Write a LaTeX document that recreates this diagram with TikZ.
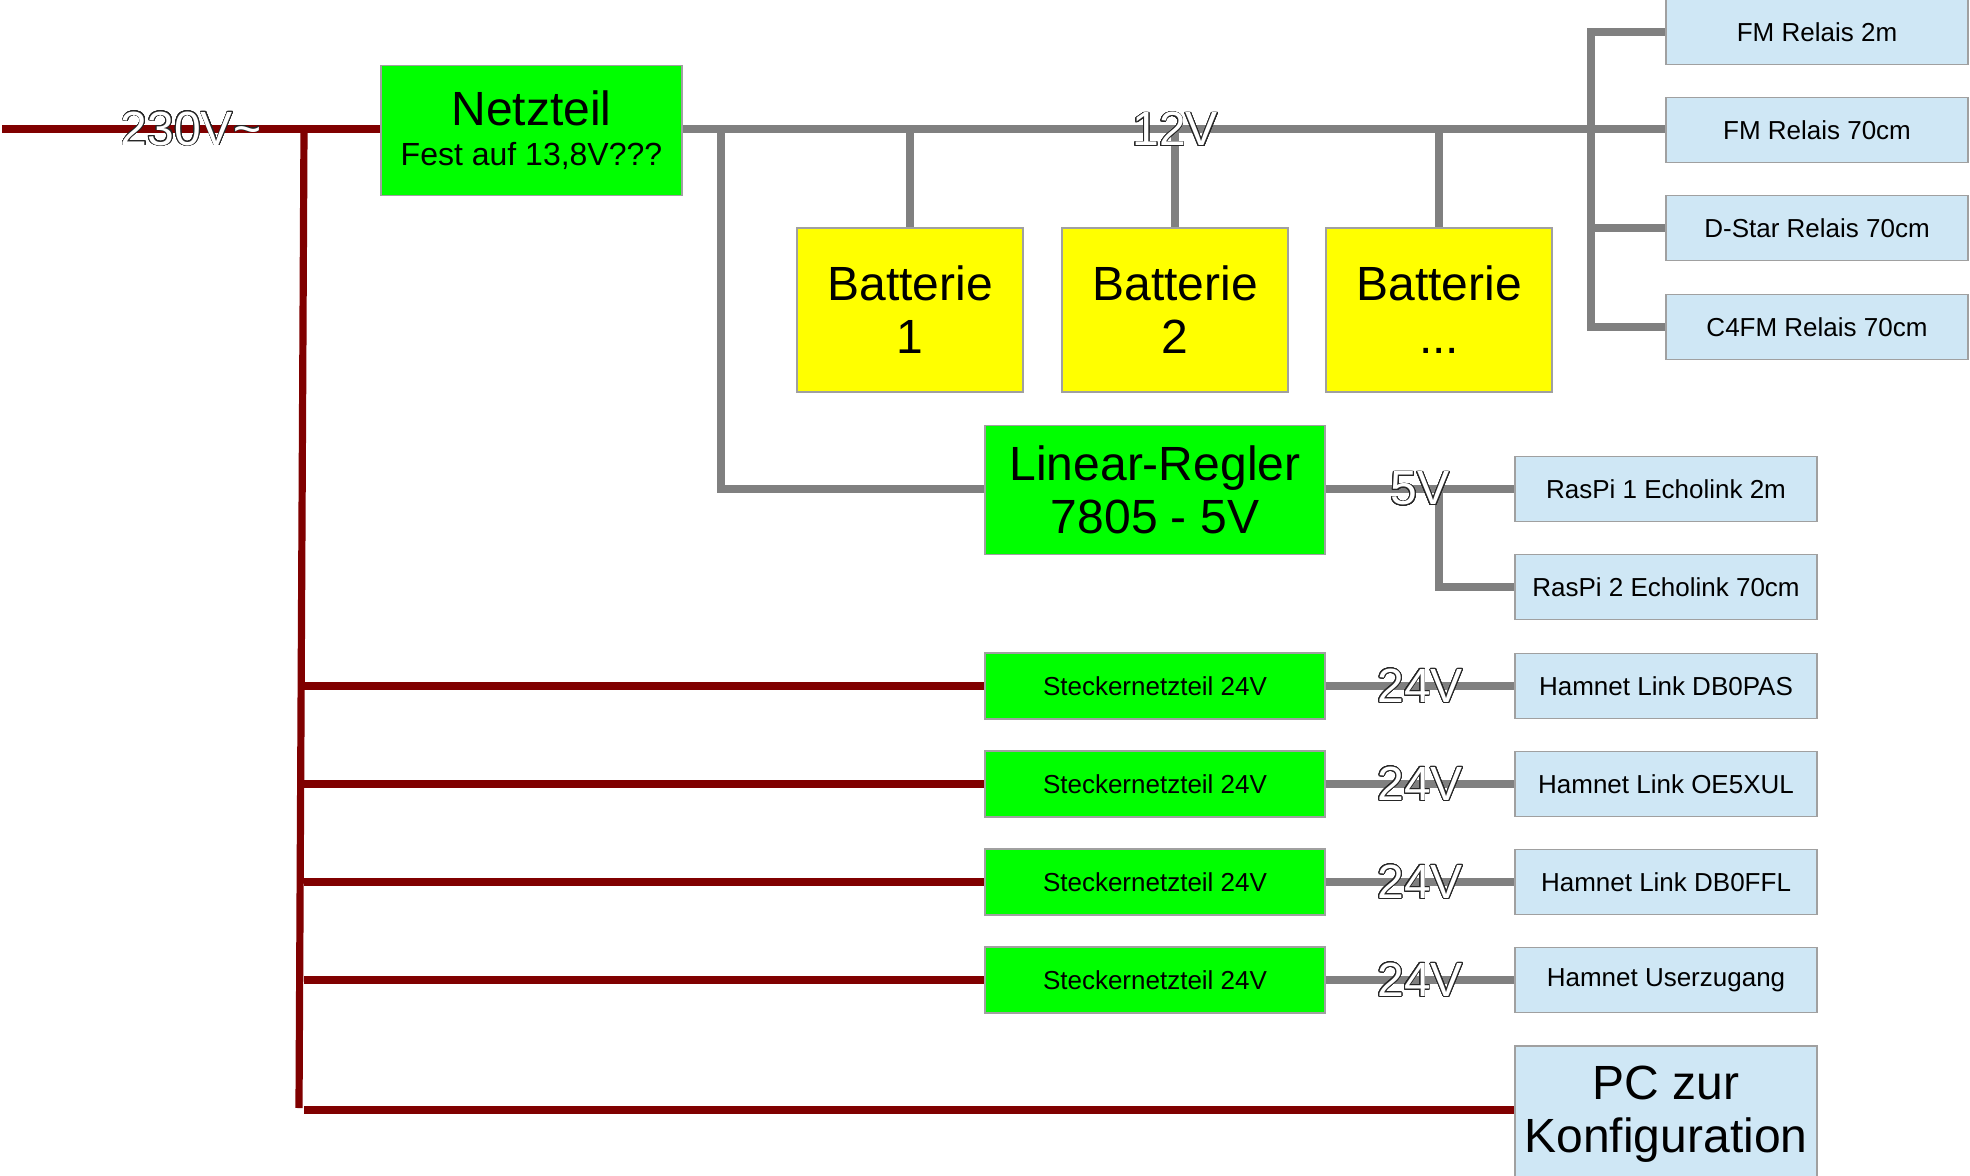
\documentclass[tikz,border=0pt]{standalone}
\usepackage{fontspec}
\setmainfont{Liberation Sans}
\usepackage[copies]{contour}
\contourlength{0.4pt}
\contournumber{32}
\definecolor{mains}{RGB}{128,0,0}
\definecolor{dc}{RGB}{128,128,128}
\definecolor{psu}{RGB}{0,255,0}
\definecolor{bat}{RGB}{255,255,0}
\definecolor{dev}{RGB}{207,231,245}
\definecolor{edge}{RGB}{160,160,160}
\newcommand{\bigf}{\fontsize{24}{26.5}\selectfont}
\newcommand{\midf}{\fontsize{16}{20}\selectfont}
\newcommand{\smf}{\fontsize{13}{15}\selectfont}
\newcommand{\vlabel}[1]{\contour{black!85}{\textcolor{white}{#1}}}
\tikzset{
  box/.style={draw=edge, line width=0.6pt, inner sep=0pt, align=center},
  psubox/.style={box, fill=psu},
  stbox/.style={psubox, minimum width=170pt, minimum height=33pt, font=\smf},
  batbox/.style={box, fill=bat, minimum width=113pt, minimum height=82pt, font=\bigf},
  devbox/.style={box, fill=dev, minimum width=151pt, minimum height=32.5pt, font=\smf},
  acline/.style={draw=mains, line width=3.6pt},
  dcline/.style={draw=dc, line width=3.6pt},
  vlab/.style={inner sep=0pt, font=\bigf}
}
\begin{document}
\begin{tikzpicture}[x=0.5pt,y=-0.5pt]
\useasboundingbox (0,0) rectangle (1970,1176);

% boxes
\node[psubox, minimum width=150.5pt, minimum height=65pt, font=\midf] (netz) at (531.5,130.5) {{\bigf Netzteil}\\Fest auf 13,8V???};
\node[batbox] (bat1) at (910,310) {Batterie\\1};
\node[batbox] (bat2) at (1175,310) {Batterie\\2};
\node[batbox] (bat3) at (1439,310) {Batterie\\...};
\node[psubox, minimum width=170pt, minimum height=64.5pt, font=\bigf] (linreg) at (1155,490) {Linear-Regler\\7805 - 5V};
\node[stbox] (st1) at (1155,686) {Steckernetzteil 24V};
\node[stbox] (st2) at (1155,784) {Steckernetzteil 24V};
\node[stbox] (st3) at (1155,882) {Steckernetzteil 24V};
\node[stbox] (st4) at (1155,980) {Steckernetzteil 24V};

\node[devbox] (rel1) at (1817,32) {FM Relais 2m};
\node[devbox] (rel2) at (1817,130) {FM Relais 70cm};
\node[devbox] (rel3) at (1817,228) {D-Star Relais 70cm};
\node[devbox] (rel4) at (1817,327) {C4FM Relais 70cm};
\node[devbox] (rasp1) at (1666,489) {RasPi 1 Echolink 2m};
\node[devbox] (rasp2) at (1666,587) {RasPi 2 Echolink 70cm};
\node[devbox] (ham1) at (1666,686) {Hamnet Link DB0PAS};
\node[devbox] (ham2) at (1666,784) {Hamnet Link OE5XUL};
\node[devbox] (ham3) at (1666,882) {Hamnet Link DB0FFL};
\node[devbox] (ham4) at (1666,980) {Hamnet Userzugang};
\node[devbox, minimum height=68pt, font=\bigf] (pc) at (1666,1114) {PC zur\\Konfiguration};

% AC wiring
\coordinate (acin) at (2,129);
\coordinate (actop) at (304,129);
\coordinate (acbot) at (299,1108);
\draw[acline] (acin) -- (netz.west |- acin);
\draw[acline] (actop) -- (acbot);
\foreach \n in {st1,st2,st3,st4}{
  \draw[acline] (actop |- \n.west) -- (\n.west);
}
\draw[acline] (actop |- 0,1110) -- (pc.west |- 0,1110);

% DC wiring
\coordinate (bus) at (1591,129);
\draw[dcline] (netz.east |- bus) -- (rel2.west |- bus);
\draw[dcline, line cap=rect] (bus |- rel1.west) -- (bus |- rel4.west);
\foreach \n in {rel1,rel3,rel4}{
  \draw[dcline] (bus |- \n.west) -- (\n.west);
}
\foreach \n in {bat1,bat2,bat3}{
  \draw[dcline] (\n.north |- bus) -- (\n.north);
}
\coordinate (tap) at (721,129);
\draw[dcline] (tap) -- (tap |- rasp1.west) -- (linreg.west |- rasp1.west);
\draw[dcline] (linreg.east |- rasp1.west) -- (rasp1.west);
\coordinate (fork) at (1439,489);
\draw[dcline] (fork) -- (fork |- rasp2.west) -- (rasp2.west);
\foreach \a/\b in {st1/ham1,st2/ham2,st3/ham3,st4/ham4}{
  \draw[dcline] (\a.east) -- (\b.west);
}

% voltage labels
\node[vlab] (l230) at (191,129) {\vlabel{230V\textasciitilde}};
\node[vlab] (l12) at (1175,129.5) {\vlabel{12V}};
\node[vlab] (l5) at (1420,489) {\vlabel{5V}};
\node[vlab] (l24a) at (1420,686) {\vlabel{24V}};
\node[vlab] (l24b) at (1420,784) {\vlabel{24V}};
\node[vlab] (l24c) at (1420,882) {\vlabel{24V}};
\node[vlab] (l24d) at (1420,980) {\vlabel{24V}};
\end{tikzpicture}
\end{document}
